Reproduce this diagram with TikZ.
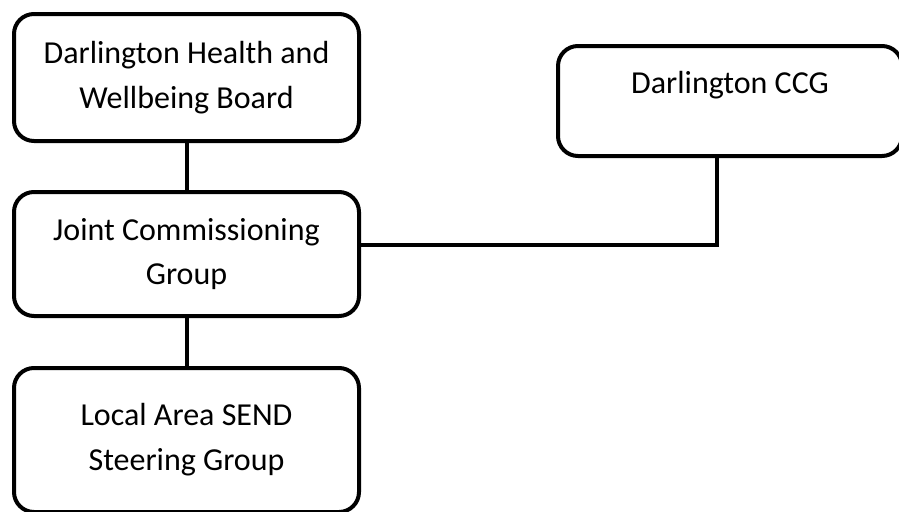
\documentclass[tikz,border=0pt]{standalone}
\usepackage{fontspec}
\setmainfont{Carlito}
\usepackage{tikz}
\usetikzlibrary{positioning}

\begin{document}
\begin{tikzpicture}[
    x=0.75pt, y=-0.75pt,
    node distance=38.25pt,
    group/.style={rectangle, draw=black, line width=3pt, rounded corners=15pt,
        outer sep=0pt, align=center, minimum width=258.75pt,
        font=\fontsize{24}{33.6}\selectfont},
    link/.style={line width=3pt}
]
    \useasboundingbox (0,0) rectangle (899,511);

    % Top: board
    \node[group, minimum height=95.25pt] (hwb) at (186.5,77.5)
        {Darlington Health and\\Wellbeing Board};

    % Right: CCG
    \node[group, minimum width=258pt, minimum height=82.5pt] (ccg) at (730,101)
        {Darlington CCG\\[-6pt]\mbox{}};

    % Middle and bottom
    \node[group, minimum height=93pt, below=of hwb] (jcg)
        {Joint Commissioning\\Group};
    \node[group, minimum height=108pt, below=39pt of jcg] (send)
        {Local Area SEND\\Steering Group};

    % Links
    \draw[link] (hwb) -- (jcg);
    \draw[link] (jcg) -- (send);
    \draw[link] ([yshift=6.75pt]jcg.east) -| ([xshift=-9.75pt]ccg.south);
\end{tikzpicture}
\end{document}
